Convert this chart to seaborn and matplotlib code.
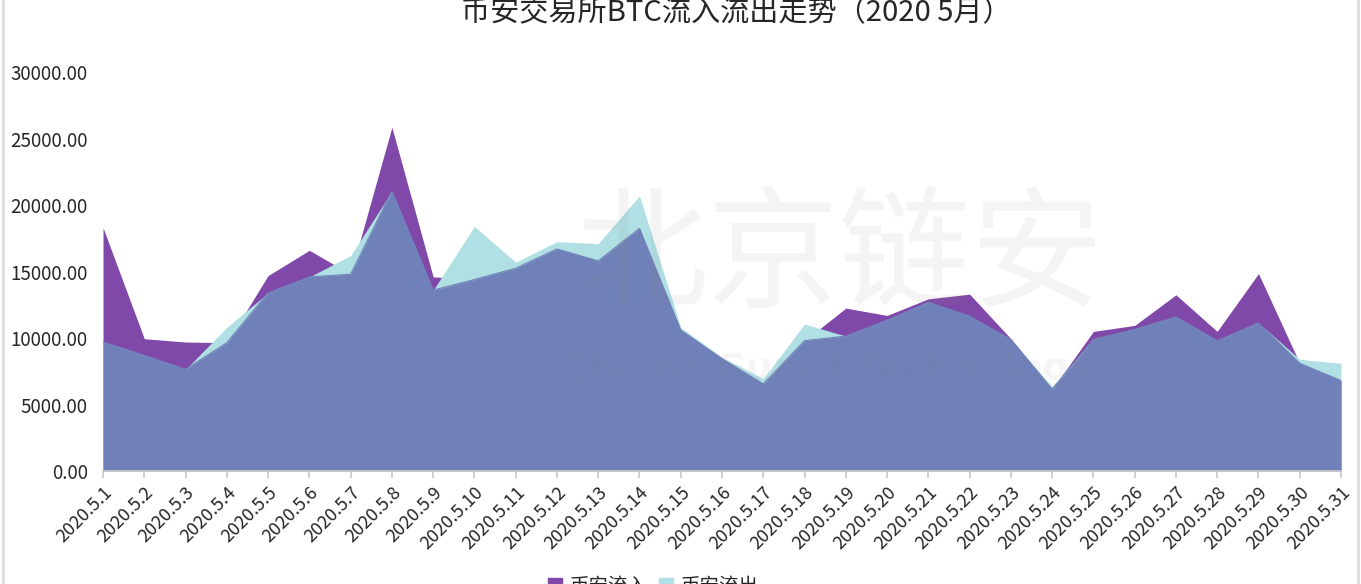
import numpy as np
import pandas as pd
import matplotlib
matplotlib.use('Agg')
import matplotlib.pyplot as plt
import seaborn as sns
from matplotlib.patches import Patch

# Données (BTC, mai 2020)
dates = [f'2020.5.{d}' for d in range(1, 32)]
inflow = [18300, 9950, 9700, 9650, 14700, 16600, 14800, 25850, 14600, 14400,
          15250, 16700, 15800, 18250, 10600, 8450, 6550, 9800, 12250, 11700,
          12950, 13300, 9950, 6150, 10500, 10950, 13250, 10500, 14850, 8100, 6800]
outflow = [9700, 8700, 7650, 10800, 13400, 14600, 16200, 21050, 13600, 18400,
           15700, 17250, 17100, 20700, 10800, 8550, 6950, 11050, 10150, 11350,
           12700, 11650, 9900, 6350, 9900, 10650, 11600, 9800, 11150, 8400, 8100]
series_names = ['币安流入', '币安流出']

c_in = '#8048A8'
c_out = '#B0E0E4'
c_both = '#7080B8'

df = pd.DataFrame({'x': np.arange(len(dates)), 'date': dates,
                   'inflow': inflow, 'outflow': outflow})
df['both'] = df[['inflow', 'outflow']].min(axis=1)

sns.set_theme(style='white')
plt.rcParams['font.family'] = ['Noto Sans CJK SC', 'DejaVu Sans']

fig = plt.figure(figsize=(13.61, 5.84), dpi=100)
ax = fig.add_axes([0.0757, 0.1935, 0.9096, 0.683])

ax.fill_between(df['x'], 0, df['inflow'], color=c_in, lw=0, zorder=1)
ax.fill_between(df['x'], 0, df['outflow'], color=c_out, lw=0, zorder=2)
ax.fill_between(df['x'], 0, df['both'], color=c_both, lw=0, zorder=3)
sns.lineplot(data=df, x='x', y='both', color=c_both, lw=0.8, ax=ax, zorder=4)

# filigrane
ax.text(0.595, 0.53, '北京链安', transform=ax.transAxes, fontsize=95,
        color='#888888', alpha=0.09, ha='center', va='center', zorder=5)
ax.text(0.585, 0.253, 'Chains Guard Technology', transform=ax.transAxes,
        fontsize=27, fontweight='bold', color='#888888', alpha=0.08,
        ha='center', va='center', zorder=5, family=['DejaVu Sans'])

ax.set_xlim(0, len(dates) - 1)
ax.set_ylim(0, 30000)
ax.set_yticks(np.arange(0, 30001, 5000))
ax.set_yticklabels([f'{v:.2f}' for v in np.arange(0, 30001, 5000)], fontsize=13.5)
ax.set_xticks(df['x'])
ax.set_xticklabels(dates, rotation=45, ha='right', rotation_mode='anchor', fontsize=13)
ax.tick_params(axis='x', length=5, color='#cccccc', pad=4, bottom=True)
ax.tick_params(axis='y', length=0, pad=11)
ax.set_xlabel('')
ax.set_ylabel('')
for s in ['top', 'right', 'left']:
    ax.spines[s].set_visible(False)
ax.spines['bottom'].set_color('#cccccc')
ax.spines['bottom'].set_zorder(6)

fig.text(0.541, 1 - 13 / 584, '币安交易所BTC流入流出走势（2020 5月）',
         fontsize=21, ha='center', va='center')

handles = [Patch(color=c_in, label=series_names[0]), Patch(color=c_out, label=series_names[1])]
fig.legend(handles=handles, loc='upper center', bbox_to_anchor=(0.48, 8 / 584),
           ncol=2, frameon=False, fontsize=14, handlelength=0.7, handleheight=0.7,
           columnspacing=0.6, handletextpad=0.4, borderpad=0, borderaxespad=0)

# bordure grise
fig.add_artist(plt.Line2D([0.002, 0.002], [0, 1], color='#dddddd', lw=2))
fig.add_artist(plt.Line2D([0.998, 0.998], [0, 1], color='#dddddd', lw=2))

fig.savefig('out.png', dpi=100)
